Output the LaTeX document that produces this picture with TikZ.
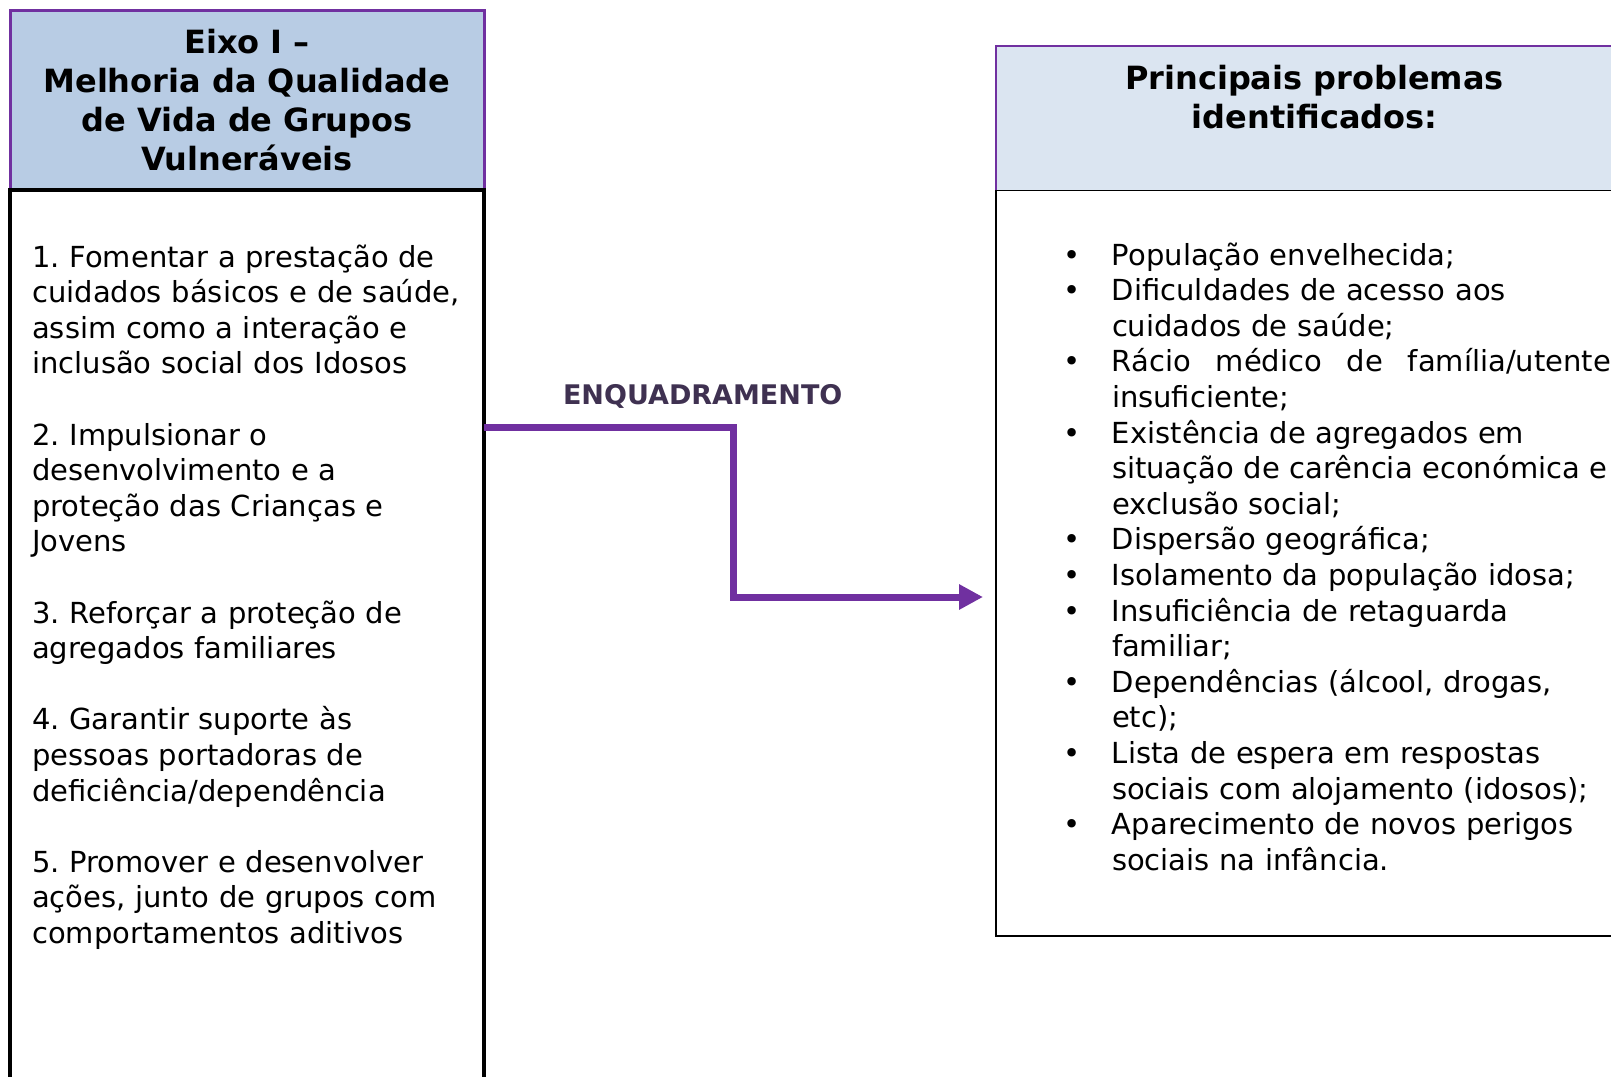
\documentclass[tikz,border=0pt]{standalone}
\usepackage{fontspec}
\setmainfont{DejaVu Sans}
\usetikzlibrary{arrows.meta}
\definecolor{eixofill}{HTML}{B8CCE4}
\definecolor{probfill}{HTML}{DBE5F1}
\definecolor{roxo}{HTML}{7030A0}
\definecolor{roxoescuro}{HTML}{3F3151}
\newcommand{\bul}{\makebox[49pt][l]{\textbullet}}
\newcommand{\probind}{\hspace*{49pt}}
\frenchspacing

\begin{document}
\begin{tikzpicture}[x=1pt, y=-1pt,
	box/.style={rectangle, inner sep=0pt, outer sep=0pt},
	head/.style={font=\fontsize{32}{39}\selectfont\bfseries, align=center, inner sep=0pt},
	body/.style={font=\fontsize{29}{35.6}\selectfont, align=left, inner sep=0pt, anchor=base west}]
	\useasboundingbox (0,0) rectangle (1611,1076);
	\node[box, draw=roxo, line width=3pt, fill=eixofill, minimum width=474pt, minimum height=180pt] (0) at (247,100) {};
	\node[box, draw=black, line width=3.5pt, minimum width=474pt, minimum height=905pt] (1) at (247,642.5) {};
	\node[box, draw=roxo, line width=1.5pt, fill=probfill, minimum width=637pt, minimum height=144.7pt] (2) at (1314.5,118.35) {};
	\node[box, draw=black, line width=1.5pt, minimum width=637pt, minimum height=745.3pt] (3) at (1314.5,563.35) {};
	\node[head] (4) at (247,100) {Eixo I --\\Melhoria da Qualidade\\de Vida de Grupos\\Vulneráveis};
	\node[body, text width=450pt] (5) at (32,267) {1. Fomentar a prestação de\\cuidados básicos e de saúde,\\assim como a interação e\\inclusão social dos Idosos\\[35.6pt]
		2. Impulsionar o\\desenvolvimento e a\\proteção das Crianças e\\Jovens\\[35.6pt]
		3. Reforçar a proteção de\\agregados familiares\\[35.6pt]
		4. Garantir suporte às\\pessoas portadoras de\\deficiência/dependência\\[35.6pt]
		5. Promover e desenvolver\\ações, junto de grupos com\\comportamentos aditivos};
	\node[head, anchor=base] (6) at (1314.5,128) {Principais problemas\\identificados:};
	\node[body, text width=620pt] (7) at (1062.8,265) {\bul População envelhecida;\\
		\bul Dificuldades de acesso aos\\\probind cuidados de saúde;\\
		\bul\hbox to 499pt{Rácio\hfill médico\hfill de\hfill família/utente}\\\probind insuficiente;\\
		\bul Existência de agregados em\\\probind situação de carência económica e\\\probind exclusão social;\\
		\bul Dispersão geográfica;\\
		\bul Isolamento da população idosa;\\
		\bul Insuficiência de retaguarda\\\probind familiar;\\
		\bul Dependências (álcool, drogas,\\\probind etc);\\
		\bul Lista de espera em respostas\\\probind sociais com alojamento (idosos);\\
		\bul Aparecimento de novos perigos\\\probind sociais na infância.};
	\node[font=\fontsize{27}{32}\selectfont\bfseries, text=roxoescuro, inner sep=0pt] (8) at (702.7,396.5) {ENQUADRAMENTO};
	\coordinate (9) at (733.6,597);
	\draw[roxo, line width=7pt, -{Triangle[length=24pt,width=24pt]}, shorten >=13pt] ([yshift=-237pt]1.north east) -| (9) -- (9 -| 3.west);
\end{tikzpicture}
\end{document}
